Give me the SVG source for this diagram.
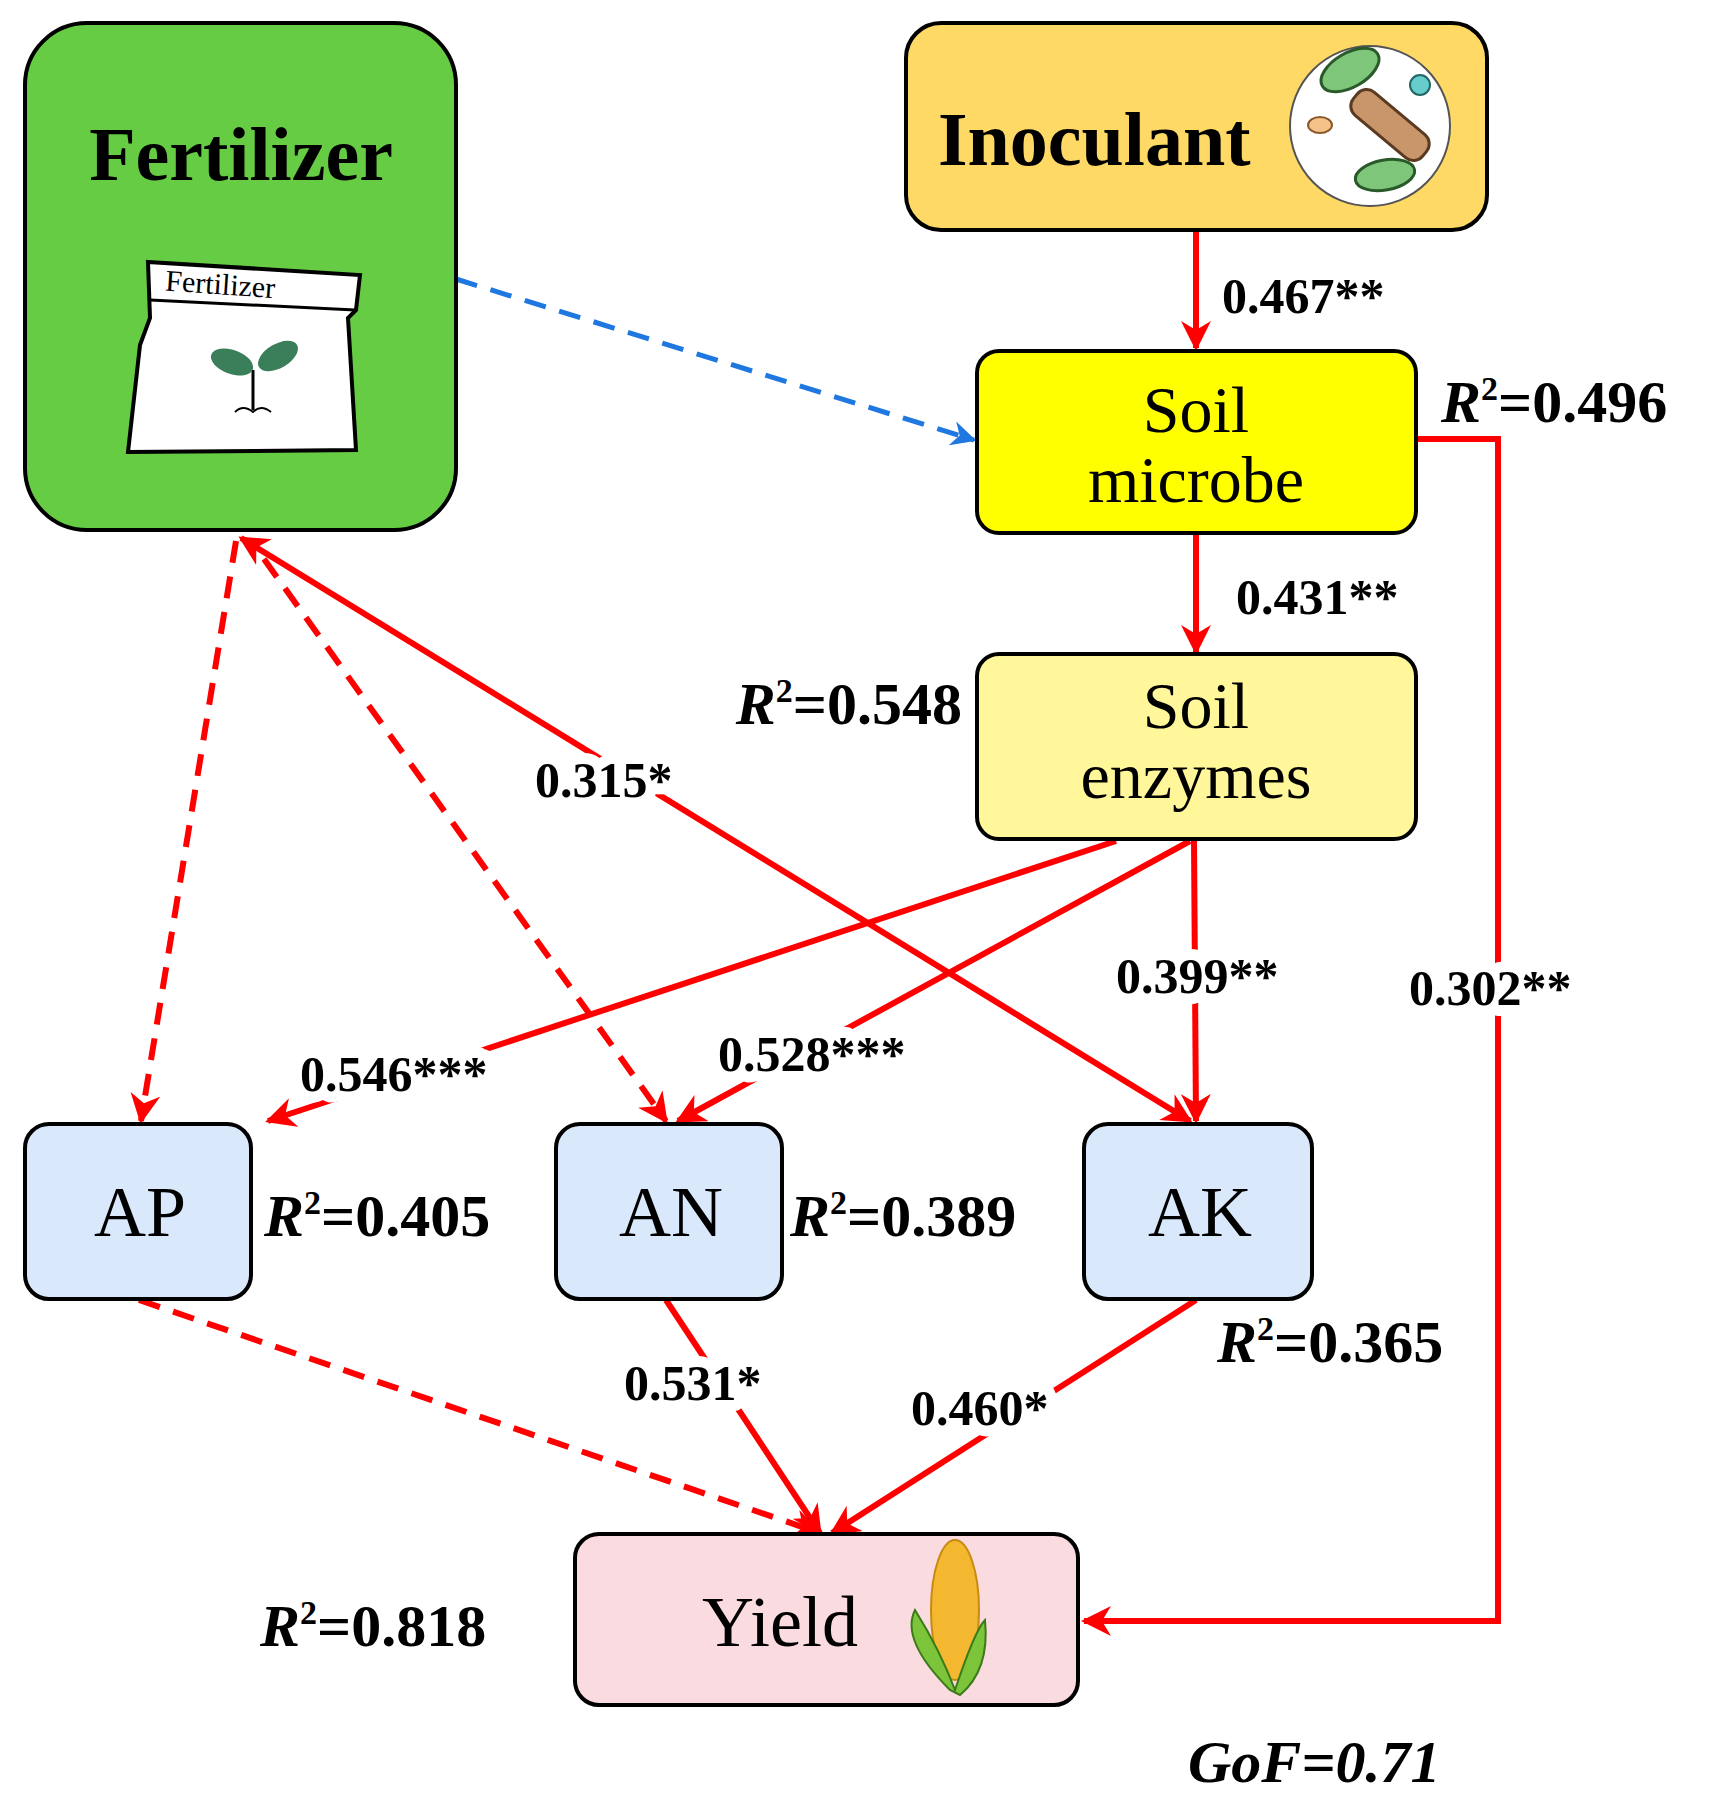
<svg xmlns="http://www.w3.org/2000/svg" width="1720" height="1797" viewBox="0 0 1720 1797">
<defs>
<style>
.box{stroke:#000;stroke-width:4}
.t{font-family:"Liberation Serif","DejaVu Serif",serif;fill:#000}
.nm{font-size:72px;text-anchor:middle}
.nm2{font-size:66px;text-anchor:middle}
.r2{font-size:60px;font-weight:bold}
.lb{font-size:50px;font-weight:bold;paint-order:stroke;stroke:#fff;stroke-width:22px;stroke-linejoin:round}
.s{stroke:#f00;stroke-width:6;fill:none}
.d{stroke-dasharray:22 14}
</style>
<marker id="ar" viewBox="0 0 10 10" refX="9" refY="5" markerWidth="5" markerHeight="5" orient="auto" markerUnits="strokeWidth"><path d="M0,0 L10,5 L0,10 L3,5 z" fill="#f00"/></marker>
<marker id="ab" viewBox="0 0 10 10" refX="9" refY="5" markerWidth="5" markerHeight="5" orient="auto" markerUnits="strokeWidth"><path d="M0,0 L10,5 L0,10 L3,5 z" fill="#1f77e0"/></marker>
</defs>
<rect width="1720" height="1797" fill="#fff"/>
<g id="connectors">
<line class="s" x1="1196" y1="230" x2="1196" y2="348" marker-end="url(#ar)"/>
<line class="s" x1="1196" y1="533" x2="1196" y2="652" marker-end="url(#ar)"/>
<line x1="456" y1="279" x2="974" y2="440" stroke="#1f77e0" stroke-width="5" stroke-dasharray="22 14" marker-end="url(#ab)"/>
<polyline class="s" points="1416,439 1498,439 1498,1621 1084,1621" marker-end="url(#ar)"/>
<line class="s" x1="1190" y1="1121" x2="241" y2="538" marker-end="url(#ar)"/>
<line class="s" x1="1180" y1="1115" x2="1190" y2="1121" marker-end="url(#ar)"/>
<line class="s d" x1="236" y1="541" x2="141" y2="1121" marker-end="url(#ar)"/>
<line class="s d" x1="264" y1="559" x2="666" y2="1121" marker-end="url(#ar)"/>
<line class="s" x1="1116" y1="841" x2="268" y2="1121" marker-end="url(#ar)"/>
<line class="s" x1="1190" y1="841" x2="678" y2="1121" marker-end="url(#ar)"/>
<line class="s" x1="1194" y1="841" x2="1196" y2="1121" marker-end="url(#ar)"/>
<line class="s d" x1="139" y1="1300" x2="820" y2="1533" marker-end="url(#ar)"/>
<line class="s" x1="666" y1="1300" x2="820" y2="1533" marker-end="url(#ar)"/>
<line class="s" x1="1196" y1="1300" x2="832" y2="1533" marker-end="url(#ar)"/>
</g>
<g id="fertilizer">
<rect class="box" x="25" y="23" width="431" height="507" rx="62" fill="#66cc44"/>
<text class="t" x="241" y="180" font-size="76" font-weight="bold" text-anchor="middle">Fertilizer</text>
<path d="M148,262 L360,275 L356,310 L348,318 L356,450 L128,452 L140,345 L150,318 z" fill="#fff" stroke="#000" stroke-width="4"/>
<line x1="150" y1="300" x2="355" y2="310" stroke="#000" stroke-width="3"/>
<text class="t" x="165" y="295" font-size="30" font-family="Liberation Sans,sans-serif" transform="rotate(4 230 290)">Fertilizer</text>
<path d="M253,410 L253,370" stroke="#000" stroke-width="3"/>
<ellipse cx="232" cy="362" rx="22" ry="12" fill="#3a7f5a" transform="rotate(20 232 362)"/>
<ellipse cx="278" cy="356" rx="22" ry="12" fill="#3a7f5a" transform="rotate(-30 278 356)"/>
<path d="M235,412 q8,-8 18,0 q8,-8 18,0" stroke="#000" stroke-width="2" fill="none"/>
</g>
<g id="inoculant">
<rect class="box" x="906" y="23" width="581" height="207" rx="35" fill="#ffd966"/>
<text class="t" x="938" y="165" font-size="76" font-weight="bold">Inoculant</text>
<circle cx="1370" cy="126" r="80" fill="#fff" stroke="#555" stroke-width="2"/>
<ellipse cx="1350" cy="70" rx="32" ry="17" fill="#7ec77a" stroke="#2a5a2a" stroke-width="3" transform="rotate(-30 1350 70)"/>
<rect x="1345" y="110" width="90" height="30" rx="12" fill="#c9956a" stroke="#5a3a20" stroke-width="3" transform="rotate(40 1390 125)"/>
<ellipse cx="1385" cy="175" rx="30" ry="15" fill="#7ec77a" stroke="#2a5a2a" stroke-width="3" transform="rotate(-10 1385 175)"/>
<circle cx="1420" cy="85" r="10" fill="#6cc" stroke="#266" stroke-width="2"/>
<ellipse cx="1320" cy="125" rx="12" ry="8" fill="#f5c28a" stroke="#8a5a2a" stroke-width="2"/>
</g>
<g id="soil-microbe">
<rect class="box" x="977" y="351" width="439" height="182" rx="22" fill="#ffff00"/>
<text class="t nm2" x="1196" y="432">Soil</text>
<text class="t nm2" x="1196" y="502">microbe</text>
</g>
<g id="soil-enzymes">
<rect class="box" x="977" y="654" width="439" height="185" rx="22" fill="#fff799"/>
<text class="t nm2" x="1196" y="728">Soil</text>
<text class="t nm2" x="1196" y="798">enzymes</text>
</g>
<g id="ap"><rect class="box" x="25" y="1124" width="226" height="175" rx="24" fill="#dae8fc"/><text class="t nm" x="140" y="1236">AP</text></g>
<g id="an"><rect class="box" x="556" y="1124" width="226" height="175" rx="24" fill="#dae8fc"/><text class="t nm" x="671" y="1236">AN</text></g>
<g id="ak"><rect class="box" x="1084" y="1124" width="228" height="175" rx="24" fill="#dae8fc"/><text class="t nm" x="1200" y="1236">AK</text></g>
<g id="yield">
<rect class="box" x="575" y="1534" width="503" height="171" rx="24" fill="#fadbe0"/>
<text class="t nm" x="780" y="1646">Yield</text>
<ellipse cx="955" cy="1610" rx="24" ry="70" fill="#f4b830" stroke="#c88a10" stroke-width="2"/>
<path d="M950,1690 Q900,1640 915,1610 Q940,1650 955,1690 Q975,1630 985,1620 Q990,1670 960,1695 z" fill="#7cc53a" stroke="#3a7a1a" stroke-width="2"/>
</g>
<g id="labels">
<text class="t lb" x="1222" y="313">0.467**</text>
<text class="t lb" x="1236" y="614">0.431**</text>
<text class="t lb" x="535" y="797">0.315*</text>
<text class="t lb" x="1116" y="993">0.399**</text>
<text class="t lb" x="1409" y="1005">0.302**</text>
<text class="t lb" x="300" y="1091">0.546***</text>
<text class="t lb" x="718" y="1071">0.528***</text>
<text class="t lb" x="624" y="1400">0.531*</text>
<text class="t lb" x="911" y="1425">0.460*</text>
<text class="t r2" x="1441" y="422"><tspan font-style="italic">R</tspan><tspan font-size="34" dy="-22">2</tspan><tspan dy="22">=0.496</tspan></text>
<text class="t r2" x="962" y="724" text-anchor="end"><tspan font-style="italic">R</tspan><tspan font-size="34" dy="-22">2</tspan><tspan dy="22">=0.548</tspan></text>
<text class="t r2" x="264" y="1236"><tspan font-style="italic">R</tspan><tspan font-size="34" dy="-22">2</tspan><tspan dy="22">=0.405</tspan></text>
<text class="t r2" x="790" y="1236"><tspan font-style="italic">R</tspan><tspan font-size="34" dy="-22">2</tspan><tspan dy="22">=0.389</tspan></text>
<text class="t r2" x="1217" y="1362"><tspan font-style="italic">R</tspan><tspan font-size="34" dy="-22">2</tspan><tspan dy="22">=0.365</tspan></text>
<text class="t r2" x="260" y="1646"><tspan font-style="italic">R</tspan><tspan font-size="34" dy="-22">2</tspan><tspan dy="22">=0.818</tspan></text>
<text class="t r2" x="1188" y="1782" font-style="italic">GoF=0.71</text>
</g>
</svg>
